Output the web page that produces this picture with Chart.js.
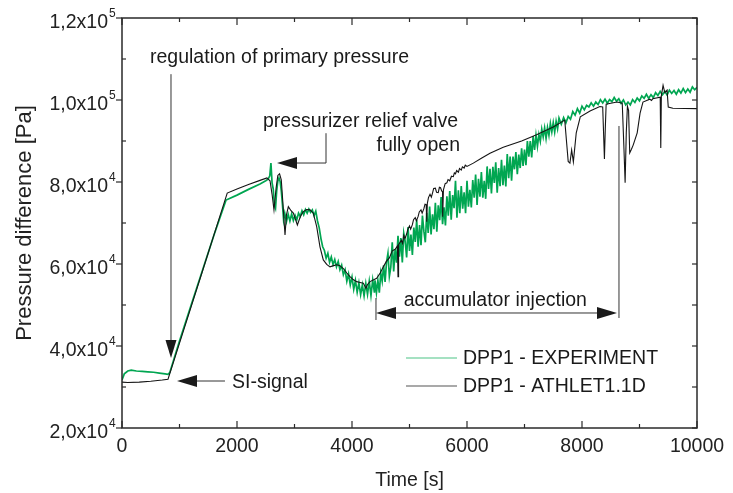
<!DOCTYPE html>
<html>
<head>
<meta charset="utf-8">
<script src="https://cdn.jsdelivr.net/npm/chart.js@4.4.0/dist/chart.umd.min.js"></script>
<style>
html, body { margin: 0; padding: 0; background: #fff; }
#wrap { width: 733px; height: 493px; }
</style>
</head>
<body>
<div id="wrap"><canvas id="chart" width="733" height="493"></canvas></div>
<script>
// axis ticks
const xTicks = [0, 2000, 4000, 6000, 8000, 10000];
const yTicks = [20000, 40000, 60000, 80000, 100000, 120000];
const yTickMantissa = ["2,0", "4,0", "6,0", "8,0", "1,0", "1,2"];
const yTickExp = ["4", "4", "4", "4", "5", "5"];

// DPP1 - EXPERIMENT
const expTime = [0, 40, 100, 160, 250, 350, 450, 550, 650, 750, 800, 830, 1000, 1200, 1400, 1600, 1810, 2000, 2200, 2400, 2500,
    2540, 2570, 2590, 2610, 2630, 2650, 2670, 2690, 2710, 2730, 2750, 2770, 2790, 2810, 2830, 2860, 2890, 2920, 2950, 2980,
    3010, 3040, 3070, 3100, 3130, 3160, 3190, 3220, 3250, 3280, 3310, 3340, 3370, 3400, 3430, 3460, 3490, 3520, 3550, 3580,
    3610, 3640, 3670, 3700, 3730, 3760, 3790, 3820, 3850, 3880, 3910, 3940, 3970, 4000, 4030, 4060, 4090, 4120, 4150, 4180,
    4210, 4240, 4270, 4300, 4330, 4360, 4390,
    4400, 4425, 4450, 4475, 4500, 4525, 4550, 4575, 4600, 4625, 4650, 4675, 4700, 4725, 4750, 4775, 4800, 4825, 4850, 4875,
    4900, 4925, 4950, 4975, 5000, 5025, 5050, 5075, 5100, 5125, 5150, 5175, 5200, 5225, 5250, 5275, 5300, 5325, 5350, 5375,
    5400, 5425, 5450, 5475, 5500, 5525, 5550, 5575, 5600, 5625, 5650, 5675, 5700, 5725, 5750, 5775, 5800, 5825, 5850, 5875,
    5900, 5925, 5950, 5975, 6000, 6025, 6050, 6075, 6100, 6125, 6150, 6175, 6200, 6225, 6250, 6275, 6300, 6325, 6350, 6375,
    6400, 6425, 6450, 6475, 6500, 6525, 6550, 6575, 6600, 6625, 6650, 6675, 6700, 6725, 6750, 6775, 6800, 6825, 6850, 6875,
    6900, 6925, 6950, 6975, 7000, 7025, 7050, 7075, 7100, 7125, 7150, 7175, 7200, 7225, 7250, 7275, 7300, 7325, 7350, 7375,
    7400, 7425, 7450, 7475, 7500, 7525, 7550, 7575, 7600,
    7640, 7680, 7720, 7760, 7800, 7840, 7880, 7920, 7960, 8000, 8040, 8080, 8120, 8160, 8200, 8240, 8280, 8320, 8360, 8400,
    8440, 8480, 8520, 8560, 8600, 8640, 8680, 8720, 8760, 8800, 8840, 8880, 8920, 8960, 9000, 9040, 9080, 9120, 9160, 9200,
    9240, 9280, 9320, 9360, 9400, 9440, 9480, 9520, 9560, 9600, 9640, 9680, 9720, 9760, 9800, 9840, 9880, 9920, 9960, 10000];
const expPa = [31700, 33200, 33900, 34100, 33900, 33800, 33700, 33600, 33400, 33200, 33100, 33500, 41200, 49900, 58500, 67100, 75600, 76800, 78200, 79500, 80300,
    80700, 81500, 84600, 79800, 78300, 74500, 73600, 77800, 80200, 81000, 80100, 77900, 74600, 70800, 72400, 70300, 72100, 70500, 72200, 70600,
    71900, 70800, 72400, 71600, 73000, 72000, 73300, 72400, 73400, 72600, 73200, 71800, 72900, 70500, 68800, 66200, 64200, 63300, 61400, 62600,
    60400, 61700, 59900, 61100, 59300, 60600, 58600, 59700, 57400, 58600, 55800, 57600, 54900, 56800, 53800, 56000, 53100, 55400, 52500, 54900,
    52200, 55300, 52600, 55800, 52300, 56100, 53000,
    56000, 53000, 56000, 53000, 57800, 55800, 59700, 55600, 60400, 62600, 57000, 59200, 65300, 58200, 63600, 60300, 66900, 61800, 66300, 60400,
    67500, 65500, 61600, 69000, 63200, 67200, 62200, 68900, 65400, 70700, 64200, 69500, 64600, 71800, 68000, 65300, 72500, 67600, 74000, 67200,
    72100, 68500, 74900, 67900, 74300, 70700, 76300, 69700, 73800, 69400, 76500, 71800, 77800, 70800, 76800, 73600, 80300, 71300, 78000, 72400,
    79000, 73500, 77500, 72400, 80300, 74000, 78100, 73800, 80500, 76200, 81800, 74400, 80800, 76400, 82400, 76200, 80300, 75900, 83800, 78300,
    83200, 77200, 83700, 79800, 84800, 77400, 83400, 79000, 85400, 79200, 84000, 78900, 86800, 80900, 86200, 80300, 86200, 83100, 87300, 81900,
    86700, 83400, 88200, 83900, 87900, 84100, 90000, 86200, 90000, 86000, 91200, 87800, 91400, 88700, 91600, 89900, 92900, 91000, 93200, 90600,
    93300, 91400, 94300, 92200, 94500, 92200, 94800, 93000, 95600,
    94100, 95700, 94400, 96000, 95300, 97200, 96300, 97900, 96800, 98500, 97600, 98700, 98300, 99300, 98500, 99500, 98900, 100100, 99300, 100200,
    99200, 100100, 99600, 100600, 99700, 100300, 99200, 100000, 98800, 99500, 98800, 100100, 99400, 100500, 99800, 101000, 100400, 101400, 100400, 101300,
    100600, 101800, 101100, 102100, 101300, 102100, 101200, 102400, 101600, 102300, 101400, 102500, 101700, 102800, 101800, 102700, 101900, 103200, 102500, 103100];

// DPP1 - ATHLET1.1D
const athTime = [0, 100, 300, 500, 700, 800, 1000, 1400, 1830, 2000, 2200, 2400, 2520, 2574, 2610, 2643, 2680, 2710, 2740, 2770,
    2800, 2835, 2860, 2893, 2940, 2980, 3050, 3100, 3153, 3210, 3270, 3327, 3386, 3443, 3501, 3560, 3617, 3680, 3733, 3790,
    3849, 3910, 3965, 4020, 4081, 4140, 4197, 4243, 4270, 4313, 4370, 4429, 4490, 4545, 4600, 4650, 4700, 4750, 4790, 4800,
    4810, 4860, 4880, 4900, 4920, 4950, 4970, 5000, 5020, 5050, 5070, 5100, 5120, 5150, 5170, 5200, 5220, 5250, 5270, 5290,
    5300, 5310, 5330, 5357, 5380, 5400, 5420, 5450, 5470, 5500, 5520, 5540, 5560, 5575, 5577, 5590, 5620, 5650, 5670, 5700,
    5730, 5762, 5780, 5800, 5820, 5850, 5870, 5900, 5920, 5950, 5970, 6000, 6110, 6250, 6400, 6630, 6950, 7210, 7500, 7700,
    7733, 7760, 7790, 7820, 7850, 7900, 7970, 8140, 8310, 8360, 8375, 8390, 8405, 8420, 8500, 8610, 8700, 8730, 8750, 8770,
    8790, 8810, 8830, 8860, 8890, 8960, 9010, 9060, 9180, 9210, 9230, 9360, 9370, 9380, 9410, 9440, 9480, 9500, 9580, 10000];
const athPa = [31200, 31100, 31200, 31400, 31700, 31900, 40700, 58300, 77300, 78300, 79400, 80400, 81000, 80300, 77000, 73200, 78500, 81600, 82000, 80500,
    74500, 67100, 72000, 74000, 73000, 72400, 69500, 71500, 72800, 73300, 73200, 72400, 69100, 64200, 61000, 59900, 59300, 59600, 59800, 59600,
    58900, 57800, 56900, 56200, 55700, 55500, 55300, 54100, 55000, 55700, 56100, 56500, 57800, 59300, 60700, 61500, 63200, 63600, 64400, 56900,
    64700, 65800, 65000, 67000, 66200, 67300, 68400, 69300, 68500, 69600, 70800, 71300, 70500, 71600, 72700, 73200, 72400, 73500, 74600, 74500,
    70300, 74800, 76200, 77000, 76300, 77300, 78400, 78500, 77500, 77400, 78700, 78600, 77800, 77600, 71500, 78100, 79600, 79800, 80600, 80300,
    81400, 81300, 82200, 82000, 82800, 82400, 83300, 82900, 83700, 83400, 84100, 83800, 84600, 85800, 87000, 88500, 90000, 91500, 93400, 95100,
    89500, 85000, 84600, 87800, 84900, 92000, 95900, 97300, 98400, 98300, 92000, 85600, 93000, 99000, 99200, 99500, 99200, 88000, 79800, 92000,
    98500, 97500, 87100, 88000, 89000, 92000, 96800, 99500, 100200, 99900, 100300, 100700, 88300, 101000, 103600, 101800, 102400, 98300, 98000, 97900];

const seriesNames = ["DPP1 - EXPERIMENT", "DPP1 - ATHLET1.1D"];
const green = "#00a651";
const black = "#151515";
const font = '"Liberation Sans", Arial, sans-serif';

function arrowHead(ctx, x, y, dir, len, half) {
    // dir: "left", "right", "down"
    ctx.beginPath();
    ctx.moveTo(x, y);
    if (dir === "left") { ctx.lineTo(x + len, y - half); ctx.lineTo(x + len, y + half); }
    if (dir === "right") { ctx.lineTo(x - len, y - half); ctx.lineTo(x - len, y + half); }
    if (dir === "down") { ctx.lineTo(x - half, y - len); ctx.lineTo(x + half, y - len); }
    ctx.closePath();
    ctx.fill();
}

function line(ctx, x1, y1, x2, y2) {
    ctx.beginPath();
    ctx.moveTo(x1, y1);
    ctx.lineTo(x2, y2);
    ctx.stroke();
}

const decor = {
    id: "decor",
    afterDraw(chart) {
        const ctx = chart.ctx;
        const a = chart.chartArea;
        const xs = chart.scales.x, ys = chart.scales.y;
        const px = v => xs.getPixelForValue(v);
        const py = v => ys.getPixelForValue(v);
        ctx.save();

        // frame
        ctx.strokeStyle = "#2a2a2a";
        ctx.lineWidth = 1.5;
        ctx.strokeRect(a.left, a.top, a.right - a.left, a.bottom - a.top);

        // x ticks (inside, bottom and top)
        ctx.lineWidth = 1.2;
        for (let t = 0; t <= 10000; t += 1000) {
            const x = px(t);
            const len = t % 2000 === 0 ? 7 : 4;
            line(ctx, x, a.bottom, x, a.bottom - len);
            line(ctx, x, a.top, x, a.top + len);
        }
        // y ticks
        for (let v = 20000; v <= 120000; v += 10000) {
            const y = py(v);
            if (v % 20000 === 0) line(ctx, a.left, y, a.left - 6, y);
            else line(ctx, a.left, y, a.left + 4, y);
            line(ctx, a.right, y, a.right - 5, y);
        }

        // tick labels
        ctx.fillStyle = "#222";
        ctx.font = "19.5px " + font;
        ctx.textAlign = "center";
        ctx.textBaseline = "alphabetic";
        xTicks.forEach(t => ctx.fillText(String(t), px(t), a.bottom + 24));
        yTicks.forEach((v, i) => {
            const y = py(v);
            ctx.font = "19.5px " + font;
            ctx.textAlign = "right";
            ctx.fillText(yTickMantissa[i] + "x10", a.left - 14, y + 10);
            ctx.font = "12px " + font;
            ctx.textAlign = "left";
            ctx.fillText(yTickExp[i], a.left - 13, y - 1);
        });

        // axis titles
        ctx.font = "19.5px " + font;
        ctx.textAlign = "center";
        ctx.fillText("Time [s]", (a.left + a.right) / 2, a.bottom + 58);
        ctx.save();
        ctx.font = "22px " + font;
        ctx.translate(31, (a.top + a.bottom) / 2);
        ctx.rotate(-Math.PI / 2);
        ctx.fillText("Pressure difference [Pa]", 0, 0);
        ctx.restore();

        // annotations
        ctx.strokeStyle = "#333";
        ctx.fillStyle = "#1a1a1a";
        ctx.lineWidth = 1;
        ctx.textAlign = "left";
        ctx.fillText("regulation of primary pressure", px(487), py(109000));
        line(ctx, px(852), py(106300), px(852), py(37070) - 10);
        arrowHead(ctx, px(852), py(37070), "down", 18, 5.5);

        ctx.fillText("SI-signal", px(1913), py(29800));
        line(ctx, px(1791), py(31460), px(957) + 10, py(31460));
        arrowHead(ctx, px(957), py(31460), "left", 20, 6);

        ctx.fillText("pressurizer relief valve", px(2452), py(93400));
        ctx.textAlign = "right";
        ctx.fillText("fully open", px(5878), py(87560));
        ctx.textAlign = "left";
        ctx.beginPath();
        ctx.moveTo(px(3548), py(91900));
        ctx.lineTo(px(3548), py(84630));
        ctx.lineTo(px(2696) + 10, py(84630));
        ctx.stroke();
        arrowHead(ctx, px(2696), py(84630), "left", 20, 6);

        ctx.fillText("accumulator injection", px(4900), py(49700));
        line(ctx, px(4417), py(51700), px(4417), py(46340));
        line(ctx, px(4417) + 10, py(48050), px(8609) - 10, py(48050));
        arrowHead(ctx, px(4417), py(48050), "left", 20, 6);
        arrowHead(ctx, px(8609), py(48050), "right", 20, 6);
        line(ctx, px(8643), py(46830), px(8643), py(93660));

        // legend
        ctx.textBaseline = "middle";
        const legendY = [358, 386];
        const legendColor = ["#4cc486", "#555"];
        seriesNames.forEach((name, i) => {
            ctx.strokeStyle = legendColor[i];
            ctx.lineWidth = 1.2;
            line(ctx, 406, legendY[i], 457, legendY[i]);
            ctx.fillText(name, 463, legendY[i] + 1);
        });
        ctx.restore();
    }
};

const ctx = document.getElementById("chart");
const chart = new Chart(ctx, {
    type: "line",
    data: {
        datasets: [{
            label: seriesNames[1],
            data: athTime.map((t, i) => ({ x: t, y: athPa[i] })),
            borderColor: black,
            borderWidth: 1.1,
            pointRadius: 0,
            tension: 0
        }, {
            label: seriesNames[0],
            data: expTime.map((t, i) => ({ x: t, y: expPa[i] })),
            borderColor: green,
            borderWidth: 1.7,
            pointRadius: 0,
            tension: 0
        }]
    },
    options: {
        responsive: false,
        animation: false,
        devicePixelRatio: 1,
        layout: { padding: { left: 122, top: 18, right: 36, bottom: 65 } },
        plugins: { legend: { display: false }, tooltip: { enabled: false } },
        scales: {
            x: { type: "linear", min: 0, max: 10000, display: false },
            y: { type: "linear", min: 20000, max: 120000, display: false }
        }
    },
    plugins: [decor]
});
</script>
</body>
</html>
